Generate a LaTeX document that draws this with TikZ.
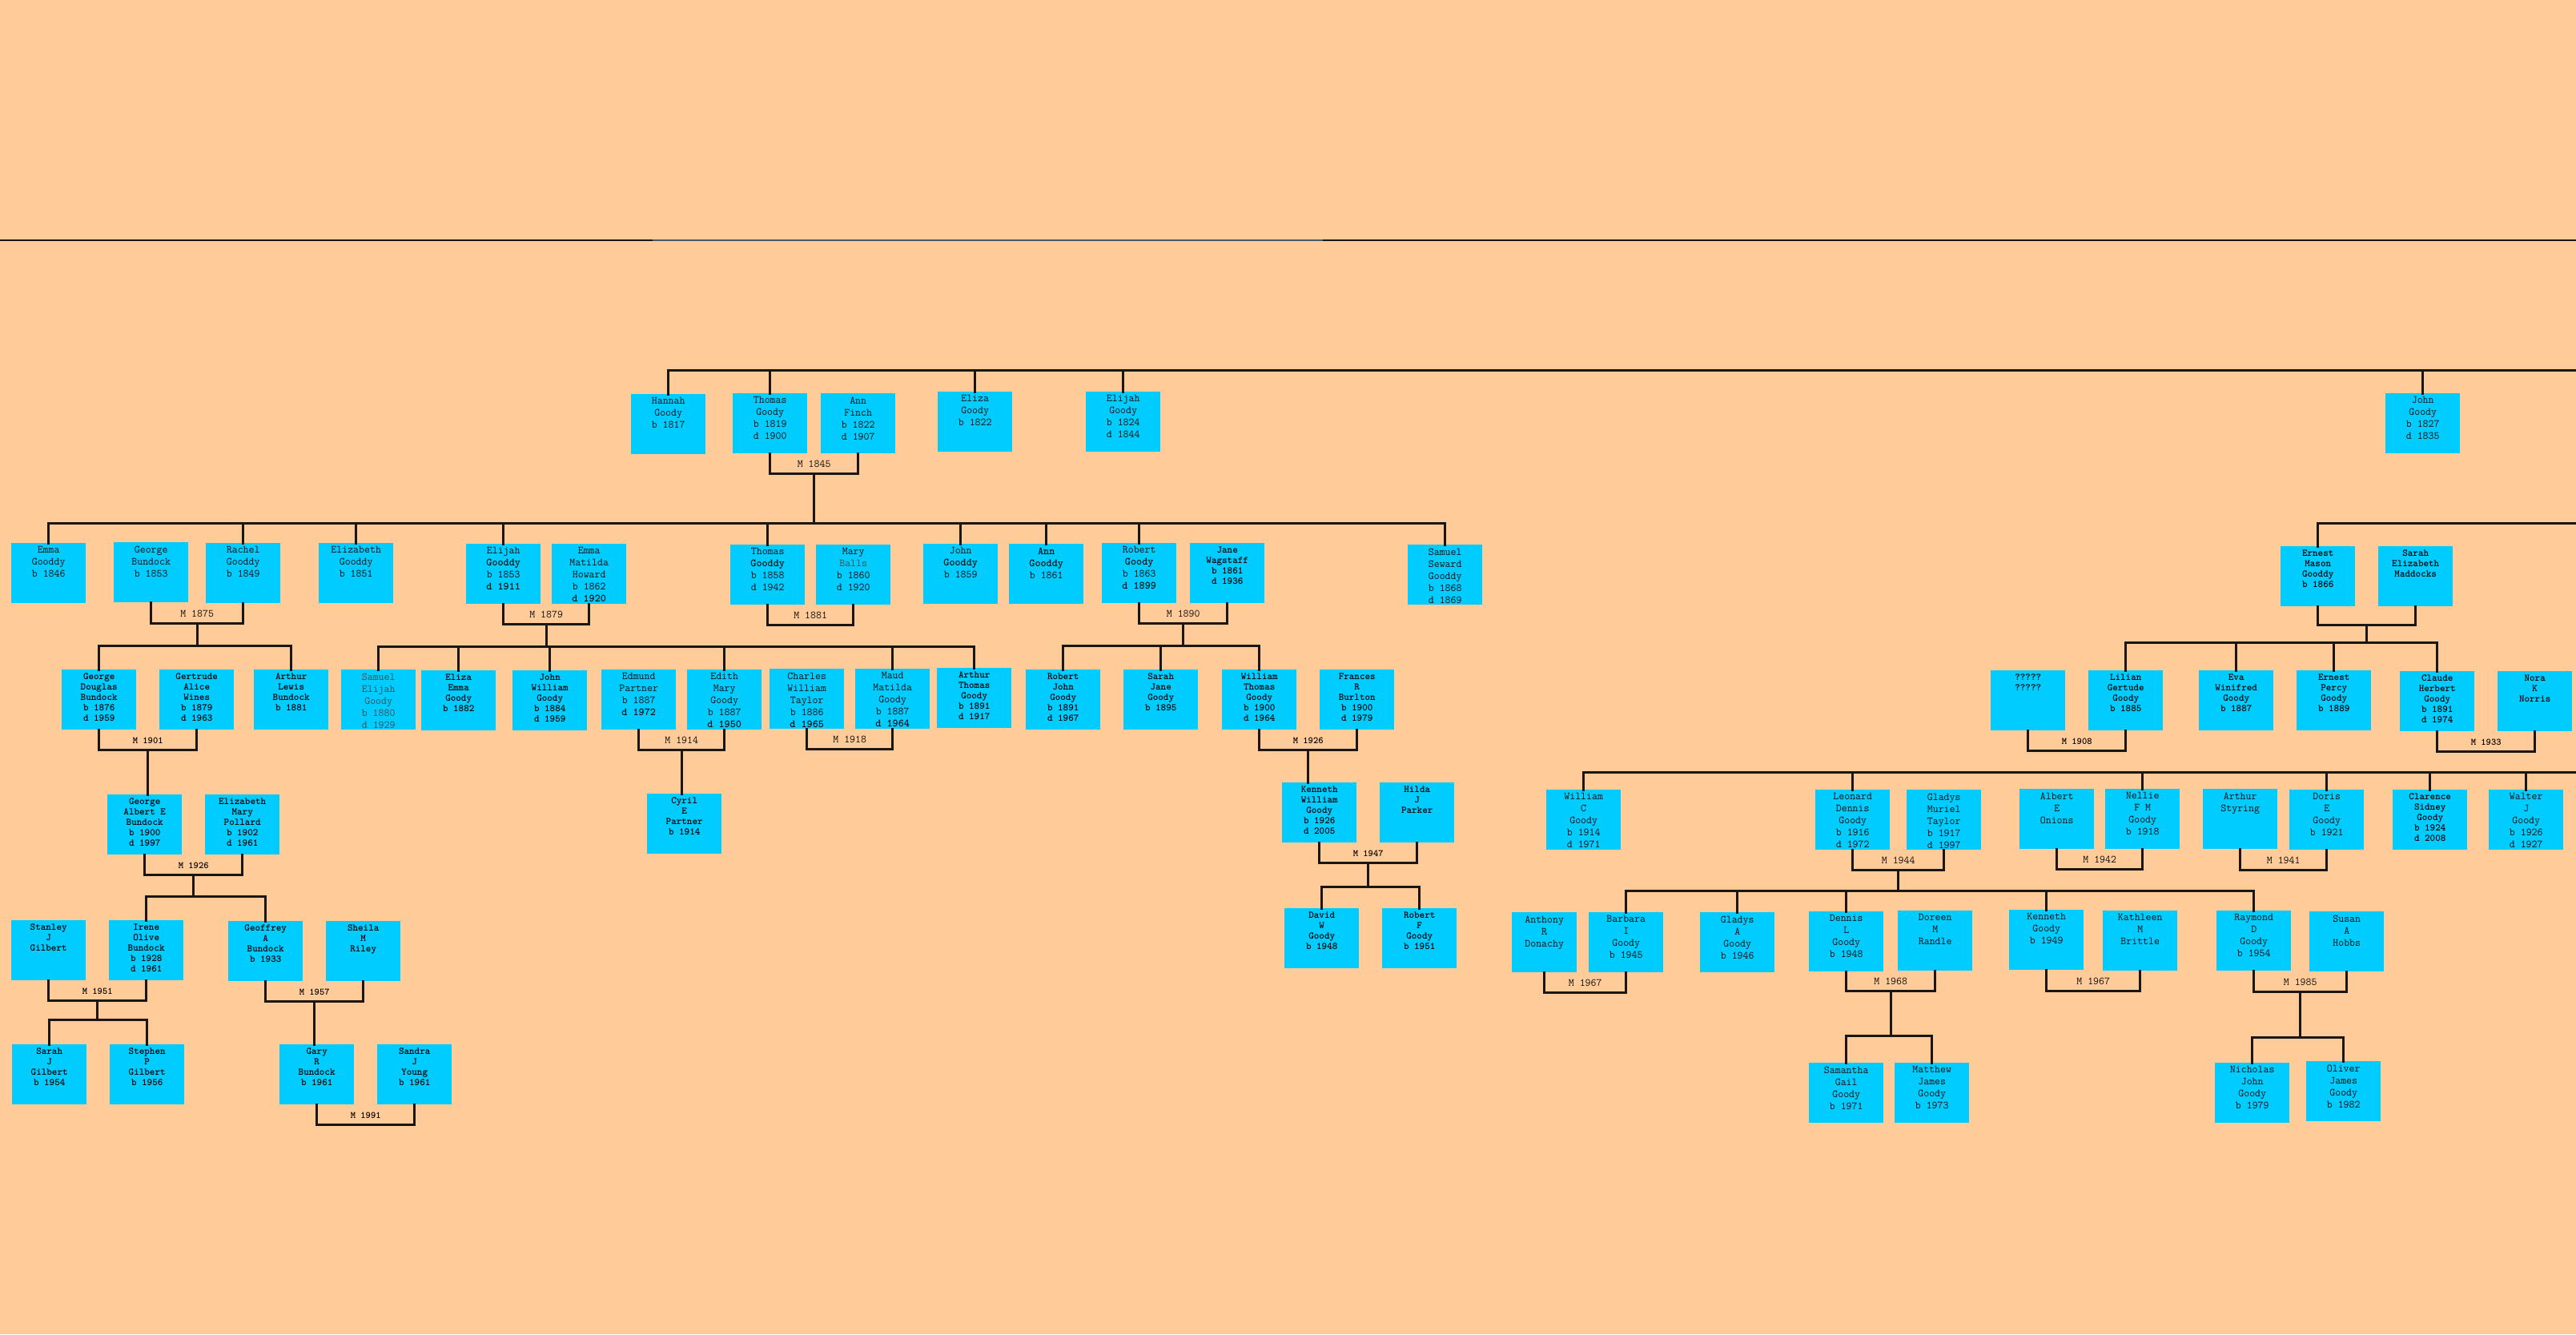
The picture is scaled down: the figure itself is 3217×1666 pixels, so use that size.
\documentclass[tikz,border=0pt]{standalone}
\usepackage{tikz}
\usetikzlibrary{calc}

\definecolor{peach}{RGB}{255,204,153}
\definecolor{kincyan}{RGB}{0,204,255}
\definecolor{inkgrey}{RGB}{15,15,15}
\definecolor{fadegrey}{RGB}{75,75,75}
\definecolor{linkdark}{RGB}{28,22,18}
\definecolor{rulemid}{RGB}{70,92,110}

\newcommand{\tops}[1]{\parbox[t][70pt][t]{78pt}{\vspace*{2pt}\centering #1}}

\tikzset{
    kin/.style={fill=kincyan, inner sep=0pt, minimum width=93pt, minimum height=75pt,
        anchor=north west, text=inkgrey, font=\ttfamily\fontsize{13.5}{15}\selectfont},
    kinb/.style={kin, text=black, font=\ttfamily\bfseries\fontsize{12.5}{13}\selectfont},
    link/.style={draw=linkdark, line width=3pt, line cap=rect},
    wed/.style={above=6pt, inner sep=0pt, text=inkgrey, font=\ttfamily\fontsize{13.5}{14}\selectfont},
    wedb/.style={wed, text=black, font=\ttfamily\bfseries\fontsize{12}{13}\selectfont},
}

\begin{document}
\begin{tikzpicture}[x=1pt,y=-1pt]
        % Background
        \fill[peach] (0,0) rectangle (3217,1666);
        \useasboundingbox (0,0) rectangle (3217,1666);
        % Header rule
        \draw[linkdark, line width=2pt] (0,300) -- (815,300);
        \draw[rulemid, line width=2pt] (815,300) -- (1652,300);
        \draw[linkdark, line width=2pt] (1652,300) -- (3217,300);
        % First generation
        \node[kin] (hannah) at (788,492) {\tops{Hannah\\Goody\\b 1817}};
        \node[kin] (thomas) at (915,491) {\tops{Thomas\\Goody\\b 1819\\d 1900}};
        \node[kin] (annf) at (1025,491) {\tops{Ann\\Finch\\b 1822\\d 1907}};
        \node[kin] (eliza) at (1171,489) {\tops{Eliza\\Goody\\b 1822}};
        \node[kin] (elijah) at (1356,489) {\tops{Elijah\\Goody\\b 1824\\d 1844}};
        \node[kin] (johng) at (2979,491) {\tops{John\\Goody\\b 1827\\d 1835}};
        % Second generation
        \node[kin] (emma) at (14,678) {\tops{Emma\\Gooddy\\b 1846}};
        \node[kin] (georgeb) at (142,677) {\tops{George\\Bundock\\b 1853}};
        \node[kin] (rachel) at (257,678) {\tops{Rachel\\Gooddy\\b 1849}};
        \node[kin] (elizabeth) at (398,678) {\tops{Elizabeth\\Gooddy\\b 1851}};
        \node[kin] (elijahg) at (582,679) {\tops{Elijah\\\textbf{Gooddy}\\b 1853\\\textbf{d 1911}}};
        \node[kin] (emmah) at (689,679) {\tops{Emma\\Matilda\\Howard\\b 1862\\\textbf{d 1920}}};
        \node[kin] (thomasg) at (912,680) {\tops{Thomas\\\textbf{Gooddy}\\b 1858\\d 1942}};
        \node[kin] (maryb) at (1019,680) {\tops{Mary\\{\color{fadegrey}Balls}\\b 1860\\d 1920}};
        \node[kin] (johngd) at (1153,679) {\tops{John\\\textbf{Gooddy}\\b 1859}};
        \node[kin] (anng) at (1260,679) {\tops{\textbf{Ann}\\\textbf{Gooddy}\\b 1861}};
        \node[kin] (robert) at (1376,678) {\tops{Robert\\\textbf{Goody}\\b 1863\\\textbf{d 1899}}};
        \node[kinb] (jane) at (1486,678) {\tops{Jane\\Wagstaff\\b 1861\\d 1936}};
        \node[kin] (samuel) at (1758,680) {\tops{Samuel\\Seward\\Gooddy\\b 1868\\d 1869}};
        \node[kinb] (ernestm) at (2848,682) {\tops{Ernest\\Mason\\Gooddy\\b 1866}};
        \node[kinb] (sarahm) at (2970,682) {\tops{Sarah\\Elizabeth\\Maddocks}};
        % Third generation
        \node[kinb] (georged) at (77,836) {\tops{George\\Douglas\\Bundock\\b 1876\\d 1959}};
        \node[kinb] (gertrude) at (199,836) {\tops{Gertrude\\Alice\\Wines\\b 1879\\d 1963}};
        \node[kinb] (arthurl) at (317,836) {\tops{Arthur\\Lewis\\Bundock\\b 1881}};
        \node[kin, text=fadegrey] (samuele) at (426,836) {\tops{Samuel\\Elijah\\Goody\\b 1880\\d 1929}};
        \node[kinb] (elizae) at (526,837) {\tops{Eliza\\Emma\\Goody\\b 1882}};
        \node[kinb] (johnw) at (640,837) {\tops{John\\William\\Goody\\b 1884\\d 1959}};
        \node[kin] (edmund) at (751,836) {\tops{Edmund\\Partner\\b 1887\\\textbf{d 1972}}};
        \node[kin] (edith) at (858,836) {\tops{Edith\\Mary\\Goody\\b 1887\\\textbf{d 1950}}};
        \node[kin] (charles) at (961,835) {\tops{Charles\\William\\Taylor\\b 1886\\\textbf{d 1965}}};
        \node[kin] (maud) at (1068,835) {\tops{Maud\\Matilda\\Goody\\b 1887\\\textbf{d 1964}}};
        \node[kinb] (arthurt) at (1170,834) {\tops{Arthur\\Thomas\\Goody\\b 1891\\d 1917}};
        \node[kinb] (robertj) at (1281,836) {\tops{Robert\\John\\Goody\\b 1891\\d 1967}};
        \node[kinb] (sarahj) at (1403,836) {\tops{Sarah\\Jane\\Goody\\b 1895}};
        \node[kinb] (williamt) at (1526,836) {\tops{William\\Thomas\\Goody\\b 1900\\d 1964}};
        \node[kinb] (frances) at (1648,836) {\tops{Frances\\R\\Burlton\\b 1900\\d 1979}};
        \node[kinb] (unknown) at (2486,837) {\tops{?????\\?????}};
        \node[kinb] (lilian) at (2608,837) {\tops{Lilian\\Gertude\\Goody\\b 1885}};
        \node[kinb] (eva) at (2746,837) {\tops{Eva\\Winifred\\Goody\\b 1887}};
        \node[kinb] (ernestp) at (2868,837) {\tops{Ernest\\Percy\\Goody\\b 1889}};
        \node[kinb] (claude) at (2997,838) {\tops{Claude\\Herbert\\Goody\\b 1891\\d 1974}};
        \node[kinb] (nora) at (3119,838) {\tops{Nora\\K\\Norris}};
        % Fourth generation
        \node[kinb] (georgea) at (134,992) {\tops{George\\Albert E\\Bundock\\b 1900\\d 1997}};
        \node[kinb] (elizabethp) at (256,992) {\tops{Elizabeth\\Mary\\Pollard\\b 1902\\d 1961}};
        \node[kinb] (cyril) at (808,991) {\tops{Cyril\\E\\Partner\\b 1914}};
        \node[kinb] (kenneth) at (1601,977) {\tops{Kenneth\\William\\Goody\\b 1926\\d 2005}};
        \node[kinb] (hilda) at (1723,977) {\tops{Hilda\\J\\Parker}};
        \node[kin] (williamc) at (1931,986) {\tops{William\\C\\Goody\\b 1914\\d 1971}};
        \node[kin] (leonard) at (2267,986) {\tops{Leonard\\Dennis\\Goody\\b 1916\\d 1972}};
        \node[kin] (gladysm) at (2381,986) {\tops{Gladys\\Muriel\\Taylor\\b 1917\\d 1997}};
        \node[kin] (albert) at (2522,985) {\tops{Albert\\E\\Onions}};
        \node[kin] (nellie) at (2629,985) {\tops{Nellie\\F M\\Goody\\b 1918}};
        \node[kin] (arthurs) at (2751,985) {\tops{Arthur\\Styring}};
        \node[kin] (doris) at (2859,986) {\tops{Doris\\E\\Goody\\b 1921}};
        \node[kinb] (clarence) at (2988,986) {\tops{Clarence\\Sidney\\Goody\\b 1924\\d 2008}};
        \node[kin] (walter) at (3108,986) {\tops{Walter\\J\\Goody\\b 1926\\d 1927}};
        % Fifth generation
        \node[kinb] (stanley) at (14,1149) {\tops{Stanley\\J\\Gilbert}};
        \node[kinb] (irene) at (136,1149) {\tops{Irene\\Olive\\Bundock\\b 1928\\d 1961}};
        \node[kinb] (geoffrey) at (285,1150) {\tops{Geoffrey\\A\\Bundock\\b 1933}};
        \node[kinb] (sheila) at (407,1150) {\tops{Sheila\\M\\Riley}};
        \node[kinb] (david) at (1604,1134) {\tops{David\\W\\Goody\\b 1948}};
        \node[kinb] (robertf) at (1726,1134) {\tops{Robert\\F\\Goody\\b 1951}};
        \node[kin, minimum width=81pt] (anthony) at (1888,1139) {\tops{Anthony\\R\\Donachy}};
        \node[kin] (barbara) at (1984,1139) {\tops{Barbara\\I\\Goody\\b 1945}};
        \node[kin] (gladysa) at (2123,1139) {\tops{Gladys\\A\\Goody\\b 1946}};
        \node[kin] (dennis) at (2259,1138) {\tops{Dennis\\L\\Goody\\b 1948}};
        \node[kin] (doreen) at (2370,1137) {\tops{Doreen\\M\\Randle}};
        \node[kin] (kennethg) at (2509,1136) {\tops{Kenneth\\Goody\\b 1949}};
        \node[kin] (kathleen) at (2626,1137) {\tops{Kathleen\\M\\Brittle}};
        \node[kin] (raymond) at (2768,1137) {\tops{Raymond\\D\\Goody\\b 1954}};
        \node[kin] (susan) at (2884,1138) {\tops{Susan\\A\\Hobbs}};
        % Sixth generation
        \node[kinb] (sarahg) at (15,1304) {\tops{Sarah\\J\\Gilbert\\b 1954}};
        \node[kinb] (stephen) at (137,1304) {\tops{Stephen\\P\\Gilbert\\b 1956}};
        \node[kinb] (gary) at (349,1304) {\tops{Gary\\R\\Bundock\\b 1961}};
        \node[kinb] (sandra) at (471,1304) {\tops{Sandra\\J\\Young\\b 1961}};
        \node[kin] (samantha) at (2259,1327) {\tops{Samantha\\Gail\\Goody\\b 1971}};
        \node[kin] (matthew) at (2366,1327) {\tops{Matthew\\James\\Goody\\b 1973}};
        \node[kin] (nicholas) at (2766,1327) {\tops{Nicholas\\John\\Goody\\b 1979}};
        \node[kin] (oliver) at (2880,1325) {\tops{Oliver\\James\\Goody\\b 1982}};
        % Draw marriages
        \foreach \a/\b/\yr/\m/\s in {thomas/annf/1845/mThAnn/wed, georgeb/rachel/1875/mGeoRac/wed,
            elijahg/emmah/1879/mEliEmm/wed, thomasg/maryb/1881/mThoMar/wed, robert/jane/1890/mRobJan/wed,
            georged/gertrude/1901/mGeoGer/wedb, edmund/edith/1914/mEdmEdi/wed, charles/maud/1918/mChaMau/wed,
            williamt/frances/1926/mWilFra/wedb, unknown/lilian/1908/mUnkLil/wedb, claude/nora/1933/mClaNor/wedb,
            georgea/elizabethp/1926/mGeoEli/wedb, kenneth/hilda/1947/mKenHil/wedb, leonard/gladysm/1944/mLeoGla/wed,
            albert/nellie/1942/mAlbNel/wed, arthurs/doris/1941/mArtDor/wed, stanley/irene/1951/mStaIre/wedb,
            geoffrey/sheila/1957/mGeoShe/wedb, anthony/barbara/1967/mAntBar/wed, dennis/doreen/1968/mDenDor/wed,
            kennethg/kathleen/1967/mKenKat/wed, raymond/susan/1985/mRaySus/wed, gary/sandra/1991/mGarSan/wedb} {
            \draw[link] (\a.south) |- node[\s, pos=0.75] {M \yr} coordinate[pos=0.75] (\m)
                ($(\b.south)+(0,25)$) -- (\b.south);
        }
        \draw[link] (ernestm.south) |- coordinate[pos=0.75] (mErnSar) ($(sarahm.south)+(0,23)$) -- (sarahm.south);
        % Draw top lines
        \coordinate (edgeA) at (3217,462);
        \coordinate (edgeB) at (3217,653);
        \coordinate (edgeD) at (3217,964);
        \draw[link] (hannah.north |- edgeA) -- (edgeA);
        \foreach \c in {hannah,thomas,eliza,elijah,johng}
            \draw[link] (\c.north) -- (\c.north |- edgeA);
        \draw[link] (ernestm.north |- edgeB) -- (edgeB);
        \draw[link] (ernestm.north) -- (ernestm.north |- edgeB);
        \draw[link] (williamc.north |- edgeD) -- (edgeD);
        \foreach \c in {williamc,leonard,nellie,doris,clarence,walter}
            \draw[link] (\c.north) -- (\c.north |- edgeD);
        % Draw children
        \foreach \m/\y/\first/\last/\kids in {mThAnn/653/emma/samuel/{emma,rachel,elizabeth,elijahg,thomasg,johngd,anng,robert,samuel},
            mGeoRac/806/georged/arthurl/{georged,arthurl},
            mEliEmm/807/samuele/arthurt/{samuele,elizae,johnw,edith,maud,arthurt},
            mRobJan/806/robertj/williamt/{robertj,sarahj,williamt},
            mErnSar/802/lilian/claude/{lilian,eva,ernestp,claude},
            mGeoEli/1119/irene/geoffrey/{irene,geoffrey},
            mKenHil/1107/david/robertf/{david,robertf},
            mLeoGla/1112/barbara/raymond/{barbara,gladysa,dennis,kennethg,raymond},
            mStaIre/1273/sarahg/stephen/{sarahg,stephen},
            mDenDor/1293/samantha/matthew/{samantha,matthew},
            mRaySus/1295/nicholas/oliver/{nicholas,oliver}} {
            \coordinate (bar) at (0,\y);
            \draw[link] (\m) -- (\m |- bar);
            \draw[link] (\first.north |- bar) -- (\last.north |- bar);
            \foreach \c in \kids
                \draw[link] (\c.north) -- (\c.north |- bar);
        }
        % Only children
        \foreach \m/\c in {mGeoGer/georgea, mEdmEdi/cyril, mWilFra/kenneth, mGeoShe/gary}
            \draw[link] (\m) -- (\m |- \c.north);
\end{tikzpicture}
\end{document}
